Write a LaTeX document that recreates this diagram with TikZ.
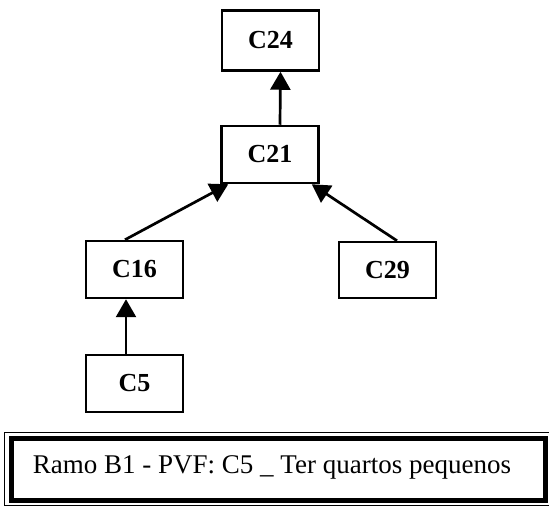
\documentclass[tikz,border=0pt]{standalone}
\usepackage{fontspec}
\setmainfont{Liberation Serif}
\usetikzlibrary{arrows.meta}
\begin{document}
\begin{tikzpicture}[x=1pt,y=-1pt,
  cbox/.style={draw=black,line width=2.5pt,minimum width=97pt,minimum height=57pt,inner sep=0pt,font=\fontsize{26}{28}\selectfont\bfseries},
  link/.style={line width=2.7pt,-{Triangle[width=20pt,length=18pt]}}]
\useasboundingbox (0,0) rectangle (549,510);
\node[cbox,minimum height=60pt] (c24) at (270.5,40.5) {C24};
\node[cbox] (c21) at (270,154.5) {C21};
\node[cbox] (c16) at (134.5,269.5) {C16};
\node[cbox] (c5) at (134.5,383.5) {C5};
\node[cbox,minimum height=56pt] (c29) at (387.5,270) {C29};
\draw[link] ([xshift=10pt]c21.north) -- ([xshift=10pt]c24.south);
\draw[link] ([xshift=-9.5pt]c16.north) -- ([xshift=8pt]c21.south west);
\draw[link] ([xshift=9.5pt]c29.north) -- ([xshift=-8pt]c21.south east);
\draw[link] ([xshift=-8.5pt]c5.north) -- ([xshift=-8.5pt]c16.south);
\node[draw=black,line width=0.8pt,minimum width=548pt,minimum height=73pt,inner sep=0pt] (outer) at (278,468.5) {};
\node[draw=black,line width=5pt,minimum width=534pt,minimum height=61pt,inner sep=0pt] (frame) at (278,469.5) {};
\node[inner sep=0pt,anchor=base,font=\fontsize{27}{29}\selectfont] (label) at (272,473) {Ramo B1 - PVF: C5 \_ Ter quartos pequenos};
\end{tikzpicture}
\end{document}
